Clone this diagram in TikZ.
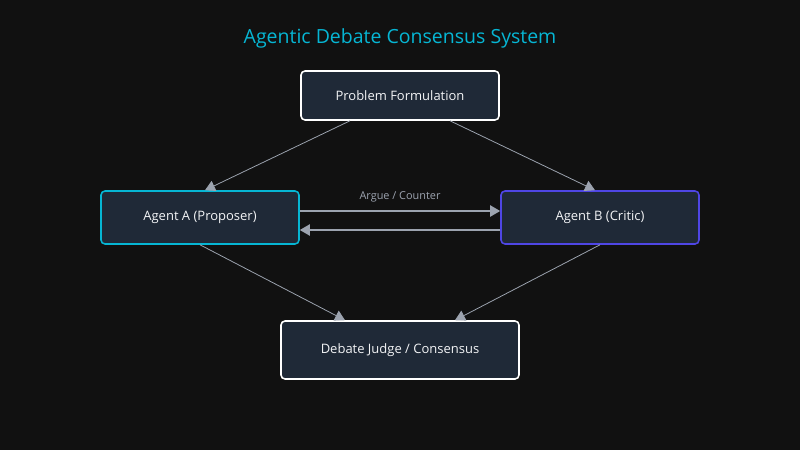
\documentclass[tikz,border=0pt]{standalone}
\usepackage{fontspec}
\setmainfont{Open Sans}
\usetikzlibrary{arrows.meta,positioning,calc}

\definecolor{bgdark}{HTML}{111111}
\definecolor{boxfill}{HTML}{1F2937}
\definecolor{titlecyan}{HTML}{06B6D4}
\definecolor{agentindigo}{HTML}{4F46E5}
\definecolor{linkgray}{HTML}{9CA3AF}
\definecolor{textlight}{HTML}{F3F4F6}

\begin{document}
\begin{tikzpicture}[
    x=0.02cm, y=-0.02cm,
    >={Triangle[width=0.22cm, length=0.2cm]},
    box/.style={draw=white, fill=boxfill, rectangle, rounded corners=0.08cm, line width=0.9pt, minimum width=3.96cm, align=center, text=textlight, font=\fontsize{7.4}{9}\selectfont},
    flow/.style={->, draw=linkgray, line width=0.45pt},
    debate/.style={->, draw=linkgray, line width=1.1pt}
]
    \useasboundingbox[fill=bgdark] (0,0) rectangle (800,450);

    \node[text=titlecyan, font=\fontsize{11.1}{13}\selectfont] (title) at (400,38) {Agentic Debate Consensus System};

    \node[box, minimum height=0.98cm] (Problem) at (400,95.5) {Problem Formulation};
    \node[box, draw=titlecyan, minimum height=1.06cm] (AgentA) at (200,217.5) {Agent A (Proposer)};
    \node[box, draw=agentindigo, minimum height=1.06cm] (AgentB) at (600,217.5) {Agent B (Critic)};
    \node[box, minimum width=4.76cm, minimum height=1.16cm] (Judge) at (400,350) {Debate Judge / Consensus};

    % problem fans out to both agents
    \draw[flow] ($(Problem.south) + (-50,0)$) -- ($(AgentA.north) + (5,0)$);
    \draw[flow] ($(Problem.south) + (50,0)$) -- ($(AgentB.north) + (-5,0)$);

    % debate loop
    \coordinate (A_out) at ($(AgentA.east) + (0,-6.5)$);
    \coordinate (A_in)  at ($(AgentA.east) + (0, 12.5)$);
    \draw[debate] (A_out) -- (A_out -| AgentB.west) node[midway, above=1pt, text=linkgray, font=\fontsize{6.2}{7}\selectfont] {Argue / Counter};
    \draw[debate] (A_in -| AgentB.west) -- (A_in);

    % both agents report to the judge
    \draw[flow] (AgentA.south) -- ($(Judge.north) + (-55,0)$);
    \draw[flow] (AgentB.south) -- ($(Judge.north) + (55,0)$);

\end{tikzpicture}
\end{document}
